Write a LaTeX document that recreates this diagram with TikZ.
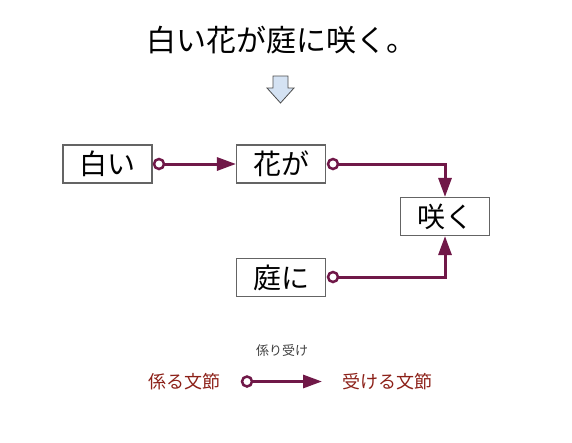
\documentclass[tikz,border=0pt]{standalone}
\usepackage{fontspec}
\setmainfont{Noto Sans CJK JP}
\usetikzlibrary{arrows.meta}
\definecolor{link}{RGB}{112,24,72}
\definecolor{boxline}{RGB}{100,100,100}
\definecolor{legred}{RGB}{140,32,24}
\definecolor{arrowfill}{RGB}{212,226,243}
\tikzset{
  word/.style={draw=boxline, line width=1.1pt, minimum width=89pt, minimum height=38pt, inner sep=0pt, font=\fontsize{28}{28}\selectfont},
  dep/.style={draw=link, line width=3pt, -{Triangle[length=19pt,width=13pt]}},
  startdot/.style={circle, draw=link, fill=white, line width=2.5pt, minimum size=10pt, inner sep=0pt},
}
\begin{document}
\begin{tikzpicture}[x=1pt,y=-1pt]
\useasboundingbox (0,0) rectangle (572,442);
\node (title) at (281.5,40) {\fontsize{30}{30}\selectfont 白い花が庭に咲く。};
\draw[fill=arrowfill, draw=black!70, line width=0.8pt] (273,76) -- (288,76) -- (288,88) -- (294,88) -- (280.5,103) -- (267,88) -- (273,88) -- cycle;
\node[word] (shiroi) at (107.5,164) {白い};
\node[word] (hanaga) at (281,164) {花が};
\node[word] (saku) at (445,216.5) {咲く};
\node[word] (niwani) at (281,277.5) {庭に};
\coordinate (c1) at (159,164);
\coordinate (c2) at (333,164);
\coordinate (c3) at (333,277);
\draw[dep] (c1) -- (hanaga.west);
\draw[dep] (c2) -| (saku.north);
\draw[dep] (c3) -| (saku.south);
\node[startdot] (d1) at (c1) {};
\node[startdot] (d2) at (c2) {};
\node[startdot] (d3) at (c3) {};
\node[text=black!75, font=\fontsize{13}{13}\selectfont] (legtitle) at (282,351) {係り受け};
\node[text=legred, font=\fontsize{18}{18}\selectfont] (kakaru) at (184,381.5) {係る文節};
\node[text=legred, font=\fontsize{18}{18}\selectfont] (ukeru) at (387,381.5) {受ける文節};
\coordinate (l1) at (247,381.5);
\coordinate (l2) at (322,381.5);
\draw[dep] (l1) -- (l2);
\node[startdot] (ld) at (l1) {};
\end{tikzpicture}
\end{document}
